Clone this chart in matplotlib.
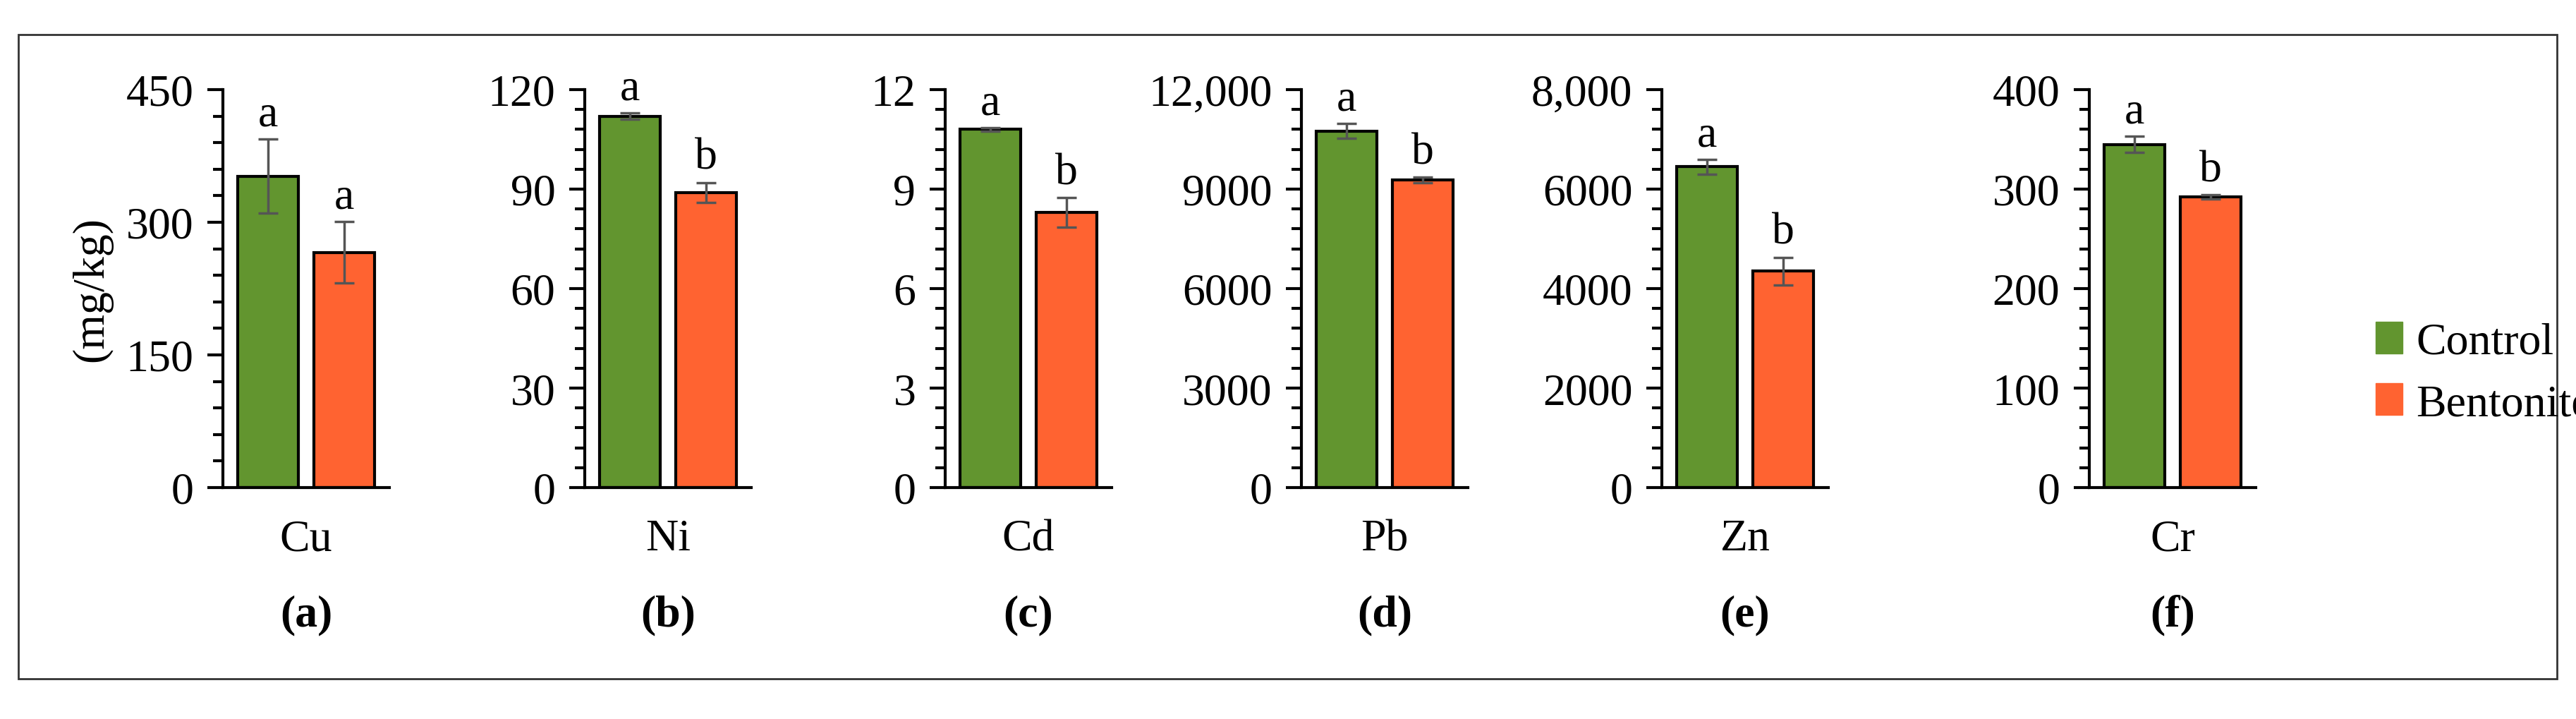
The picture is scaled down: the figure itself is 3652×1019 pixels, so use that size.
import matplotlib
matplotlib.use("Agg")
import matplotlib.pyplot as plt
from matplotlib.patches import Rectangle
from matplotlib.ticker import MultipleLocator, FuncFormatter

plt.rcParams['font.family'] = ['Liberation Serif', 'DejaVu Serif']

metals = ["Cu", "Ni", "Cd", "Pb", "Zn", "Cr"]
panels = ["(a)", "(b)", "(c)", "(d)", "(e)", "(f)"]
control = [352, 112, 10.8, 10750, 6450, 345]
control_err = [42, 1, 0.05, 220, 150, 8]
bentonite = [266, 89, 8.3, 9280, 4350, 292]
bentonite_err = [35, 3, 0.45, 80, 280, 2]
control_sig = ["a", "a", "a", "a", "a", "a"]
bentonite_sig = ["a", "b", "b", "b", "b", "b"]
ymax = [450, 120, 12, 12000, 8000, 400]
major = [150, 30, 3, 3000, 2000, 100]
minor = [30, 6, 0.6, 600, 400, 20]

green = "#62952F"
orange = "#FF6331"

W, H = 3652, 1020
fig = plt.figure(figsize=(W/100, H/100), dpi=100)
fig.patches.append(Rectangle((26/W, 1-963/H), (3625-26)/W, (963-50)/H,
                             transform=fig.transFigure, fill=False,
                             edgecolor="#333333", linewidth=2))
lefts = [316, 829, 1340, 1845, 2356, 2962]
aw = 236
bottom = 1 - 692/H
height = (692-128)/H
fs = 46

def fmt_factory(i):
    def f(v, pos):
        if i == 3 and abs(v - 12000) < 1e-6:
            return "12,000"
        if i == 4 and abs(v - 8000) < 1e-6:
            return "8,000"
        return f"{v:.0f}"
    return f

for i in range(6):
    ax = fig.add_axes([lefts[i]/W, bottom, aw/W, height])
    ax.bar([0], [control[i]], width=0.8, color=green, edgecolor="black", linewidth=3, zorder=2)
    ax.bar([1], [bentonite[i]], width=0.8, color=orange, edgecolor="black", linewidth=3, zorder=2)
    ax.errorbar([0, 1], [control[i], bentonite[i]], yerr=[control_err[i], bentonite_err[i]],
                fmt="none", ecolor="#555555", elinewidth=2.5, capsize=10, capthick=2.5, zorder=3)
    off = ymax[i] * 0.01
    ax.text(0, control[i] + control_err[i] + off, control_sig[i], ha="center", va="bottom", fontsize=fs)
    ax.text(1, bentonite[i] + bentonite_err[i] + off, bentonite_sig[i], ha="center", va="bottom", fontsize=fs)
    ax.set_xlim(-0.6, 1.6)
    ax.set_ylim(0, ymax[i])
    ax.yaxis.set_major_locator(MultipleLocator(major[i]))
    ax.yaxis.set_minor_locator(MultipleLocator(minor[i]))
    ax.yaxis.set_major_formatter(FuncFormatter(fmt_factory(i)))
    ax.set_xticks([])
    for s in ["top", "right"]:
        ax.spines[s].set_visible(False)
    ax.spines["left"].set_linewidth(3)
    ax.spines["bottom"].set_linewidth(3)
    ax.tick_params(axis="y", which="major", length=16, width=3, labelsize=fs, pad=14)
    ax.tick_params(axis="y", which="minor", length=10, width=3)
    ax.set_xlabel(metals[i], fontsize=fs, labelpad=32)
    ax.text(0.5, -0.32, panels[i], transform=ax.transAxes, ha="center", va="center",
            fontsize=fs, fontweight="bold")
    if i == 0:
        ax.set_ylabel("(mg/kg)", fontsize=fs, labelpad=14)
    if i == 5:
        h1 = Rectangle((0, 0), 1, 1, color=green)
        h2 = Rectangle((0, 0), 1, 1, color=orange)
        fig.legend([h1, h2], ["Control", "Bentonite"], loc="center left",
                   bbox_to_anchor=(3310/W, 1-530/H), frameon=False, fontsize=fs,
                   handlelength=0.6, handleheight=0.7, handletextpad=0.3, labelspacing=0.45)

fig.savefig("out.png", dpi=100, facecolor="white")
